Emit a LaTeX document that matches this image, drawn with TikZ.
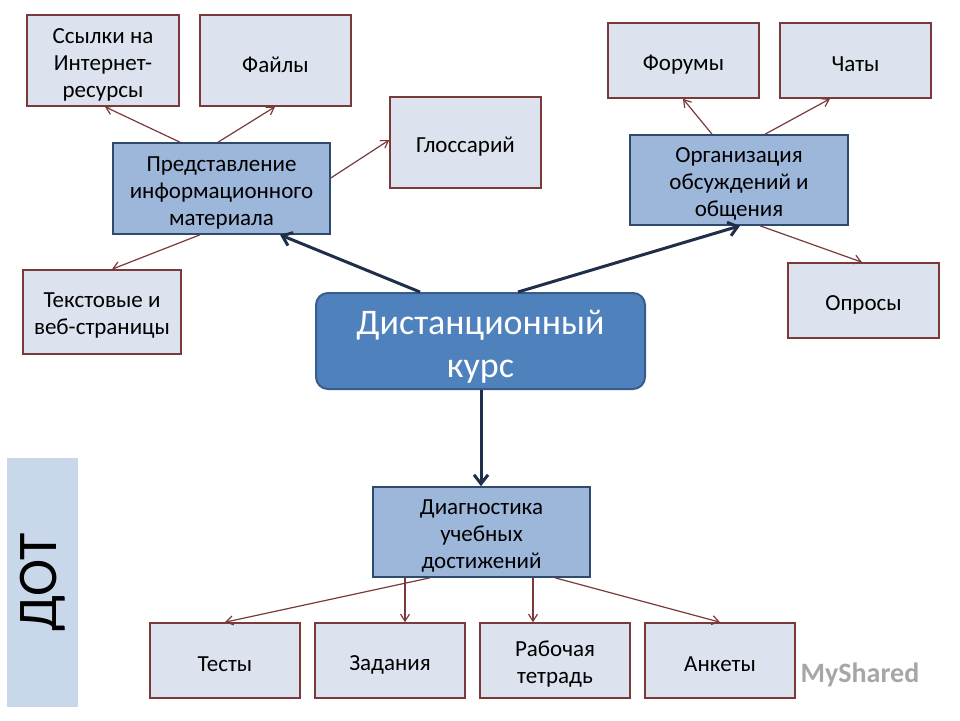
\documentclass[tikz,border=0pt]{standalone}
\usepackage{fontspec}
\setmainfont{Carlito}
\usetikzlibrary{arrows.meta}
\definecolor{wfill}{HTML}{DCE2EE}
\definecolor{wdraw}{HTML}{7B3A3A}
\definecolor{bfill}{HTML}{9DB7DB}
\definecolor{bdraw}{HTML}{2E4A6C}
\definecolor{cfill}{HTML}{4F81BD}
\definecolor{cdraw}{HTML}{385D8A}
\definecolor{navy}{HTML}{1F2F4A}
\tikzset{
 wbox/.style={draw=wdraw,line width=1.6pt,fill=wfill,inner sep=0pt},
 bbox/.style={draw=bdraw,line width=1.6pt,fill=bfill,inner sep=0pt},
 lbl/.style={align=center,font=\fontsize{23}{27}\selectfont,inner sep=0pt,yshift=-4pt},
 thin/.style={draw=wdraw,line width=1.2pt,-{Straight Barb[length=7pt,width=9pt]}},
 thick/.style={draw=navy,line width=3pt,-{Straight Barb[length=9pt,width=14pt]}}
}
\begin{document}
\begin{tikzpicture}[x=1pt,y=-1pt]
\useasboundingbox (0,0) rectangle (960,720);
\fill[white] (0,0) rectangle (960,720);
\newcommand\bx[7]{\node[#1,minimum width=#4-#2,minimum height=#5-#3] (#6) at ({(#2+#4)/2},{(#3+#5)/2}) {};
 \node[lbl] at (#6.center) {#7};}
\bx{wbox}{27}{15}{179}{106}{link} {Ссылки на\\Интернет-\\ресурсы}
\bx{wbox}{200}{15}{351}{106}{files} {Файлы}
\bx{wbox}{390}{97}{541}{188}{gloss} {Глоссарий}
\bx{bbox}{113}{143}{330}{234}{pred} {Представление\\информационного\\материала}
\bx{wbox}{23}{270}{181}{354}{text} {Текстовые и\\веб-страницы}
\bx{wbox}{608}{23}{759}{98}{forum} {Форумы}
\bx{wbox}{780}{23}{931}{98}{chat} {Чаты}
\bx{bbox}{630}{135}{848}{225}{org} {Организация\\обсуждений и\\общения}
\bx{wbox}{788}{263}{939}{338}{opros} {Опросы}
\node[draw=cdraw,line width=2pt,fill=cfill,rounded corners=12pt,minimum width=329,minimum height=96] (c) at (480.5,341) {};
\node[align=center,text=white,font=\fontsize{36}{43}\selectfont,yshift=-6pt] at (c.center) {Дистанционный\\курс};
\bx{bbox}{373}{487}{590}{577}{diag} {Диагностика\\учебных\\достижений}
\bx{wbox}{150}{623}{300}{698}{t1} {Тесты}
\bx{wbox}{315}{623}{465}{698}{t2} {Задания}
\bx{wbox}{480}{623}{630}{698}{t3} {Рабочая\\тетрадь}
\bx{wbox}{645}{623}{795}{698}{t4} {Анкеты}
\node[fill=bfill!55,minimum width=71,minimum height=249] (dot) at (42.5,582.5) {};
\node[rotate=90,font=\fontsize{56}{60}\selectfont] at (dot.center) {ДОТ};
\node[text=gray!70,font=\fontsize{28}{32}\selectfont\bfseries] (ms) at (860,675) {MyShared};
\draw[thin] (pred.north -| 180,0) -- (link.south -| 105,0);
\draw[thin] (pred.north -| 218,0) -- (files.south -| 275,0);
\draw[thin] (pred.east |- 0,178) -- (gloss.west |- 0,140);
\draw[thin] (pred.south -| 200,0) -- (text.north -| 112,0);
\draw[thin] (org.north -| 712,0) -- (forum.south -| 683,0);
\draw[thin] (org.north -| 765,0) -- (chat.south -| 830,0);
\draw[thin] (org.south -| 760,0) -- (opros.north -| 862,0);
\draw[thick] (c.north -| 420,0) -- (pred.south -| 280,0);
\draw[thick] (c.north -| 518,0) -- (org.south -| 740,0);
\draw[thick] (c.south -| 481,0) -- (diag.north -| 481,0);
\draw[thin] (diag.south -| 430,0) -- (t1.north -| 225,0);
\draw[thin] (diag.south -| 405,0) -- (t2.north -| 405,0);
\draw[thin] (diag.south -| 533,0) -- (t3.north -| 533,0);
\draw[thin] (diag.south -| 555,0) -- (t4.north -| 720,0);
\end{tikzpicture}
\end{document}
